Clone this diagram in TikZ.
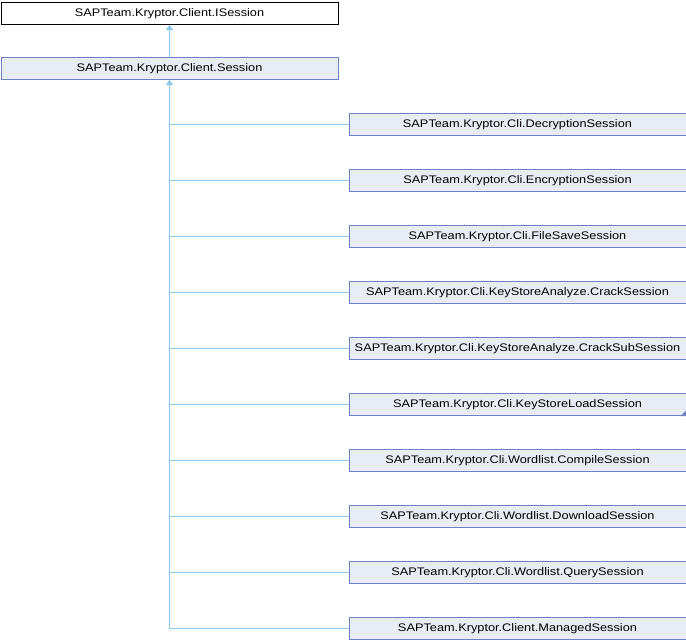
\documentclass[tikz,border=0pt]{standalone}
\usepackage{fontspec}
\setmainfont{Liberation Sans}[FakeStretch=1.16]
\usetikzlibrary{arrows.meta}
\definecolor{boxfill}{HTML}{E8ECF5}
\definecolor{boxline}{HTML}{6C83C2}
\definecolor{edge}{HTML}{8CC8EA}
\begin{document}
\begin{tikzpicture}[x=1pt,y=-1pt,
  cls/.style={draw=boxline,fill=boxfill,line width=1pt,minimum width=337pt,minimum height=22pt,inner sep=0pt,font=\fontsize{11}{13}\selectfont,anchor=north west},
  top/.style={cls,draw=black,fill=white},
  inh/.style={draw=edge,line width=1pt},
  tip/.style={inh,-{Triangle[width=7pt,length=5pt,fill=edge]}}]
\useasboundingbox (0,0) rectangle (686,640);
\node[top] (isess) at (0.5,2) {SAPTeam.Kryptor.Client.ISession};
\node[cls] (sess) at (0.5,57) {SAPTeam.Kryptor.Client.Session};
\draw[tip] (sess.north) -- (isess.south);
\foreach \i/\t in {0/SAPTeam.Kryptor.Cli.DecryptionSession,
  1/SAPTeam.Kryptor.Cli.EncryptionSession,
  2/SAPTeam.Kryptor.Cli.FileSaveSession,
  3/SAPTeam.Kryptor.Cli.KeyStoreAnalyze.CrackSession,
  4/SAPTeam.Kryptor.Cli.KeyStoreAnalyze.CrackSubSession,
  5/SAPTeam.Kryptor.Cli.KeyStoreLoadSession,
  6/SAPTeam.Kryptor.Cli.Wordlist.CompileSession,
  7/SAPTeam.Kryptor.Cli.Wordlist.DownloadSession,
  8/SAPTeam.Kryptor.Cli.Wordlist.QuerySession,
  9/SAPTeam.Kryptor.Client.ManagedSession}{
  \node[cls] (c\i) at (348.5,113+56*\i) {\t};
  \coordinate (j\i) at (sess.south |- c\i.west);
  \draw[inh] (c\i.west) -- (j\i);
}
\draw[tip] (j9) -- (sess.south);
\fill[boxline] (c5.south east) -- ++(0,-6) -- ++(-6,6) -- cycle;
\end{tikzpicture}
\end{document}
